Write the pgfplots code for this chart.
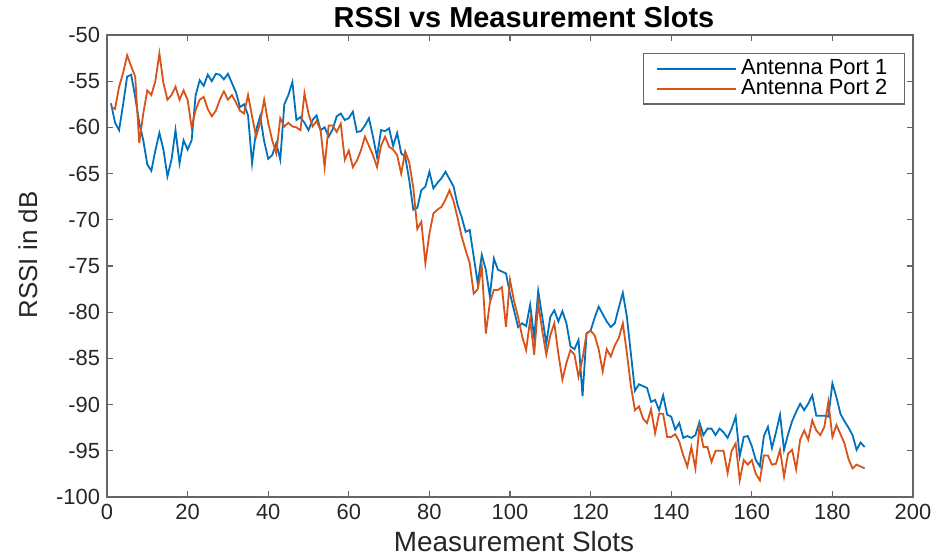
\documentclass[border=0pt]{standalone}
\usepackage{pgfplots}
\pgfplotsset{compat=1.18}
\usepackage{pgfplotstable}
\usepackage{fontspec}
\setmainfont{Liberation Sans}

\definecolor{mlblue}{rgb}{0,0.447,0.741}
\definecolor{mlorange}{rgb}{0.85,0.325,0.098}
\definecolor{axgray}{rgb}{0.40,0.40,0.40}

% slot, antenna port 1, antenna port 2
\pgfplotstableread{
slot p1 p2
1 -57.4 -57.8
2 -59.5 -58.0
3 -60.3 -55.6
4 -57.5 -54.1
5 -54.5 -52.2
6 -54.3 -53.4
7 -56.7 -54.5
8 -59.5 -61.7
9 -61.4 -58.5
10 -64.0 -56.0
11 -64.7 -56.5
12 -62.5 -55.0
13 -60.6 -52.0
14 -62.4 -55.2
15 -65.3 -57.0
16 -63.5 -56.5
17 -60.3 -55.6
18 -63.9 -57.0
19 -61.4 -56.0
20 -62.4 -57.0
21 -61.4 -60.0
22 -56.5 -58.1
23 -54.9 -57.0
24 -55.5 -56.7
25 -54.3 -58.0
26 -55.0 -58.8
27 -54.2 -58.2
28 -54.3 -57.0
29 -54.8 -56.1
30 -54.2 -57.0
31 -55.2 -56.5
32 -56.2 -57.3
33 -57.8 -58.2
34 -57.5 -58.5
35 -58.7 -56.5
36 -63.9 -58.8
37 -60.3 -61.0
38 -58.8 -59.5
39 -61.5 -57.0
40 -63.4 -59.5
41 -63.0 -61.4
42 -61.7 -62.8
43 -63.5 -59.0
44 -57.5 -59.9
45 -56.5 -59.5
46 -55.1 -59.9
47 -59.2 -60.0
48 -58.9 -60.3
49 -59.5 -56.3
50 -60.3 -58.5
51 -59.2 -59.9
52 -58.7 -59.3
53 -60.3 -60.3
54 -60.0 -64.3
55 -61.0 -59.8
56 -60.2 -59.8
57 -58.8 -60.5
58 -58.5 -59.6
59 -59.2 -63.5
60 -59.0 -62.5
61 -58.3 -64.3
62 -60.5 -63.6
63 -60.4 -62.5
64 -59.8 -61.0
65 -59.0 -62.0
66 -61.0 -63.0
67 -63.2 -64.3
68 -60.3 -62.0
69 -60.4 -61.0
70 -60.1 -62.1
71 -62.0 -62.4
72 -60.6 -63.0
73 -62.8 -65.0
74 -63.2 -62.6
75 -65.7 -63.8
76 -68.9 -66.5
77 -68.7 -71.0
78 -66.8 -70.2
79 -66.4 -74.7
80 -64.8 -71.5
81 -66.6 -69.3
82 -66.0 -68.9
83 -65.5 -68.6
84 -64.8 -67.8
85 -65.6 -66.8
86 -66.4 -68.0
87 -68.4 -69.8
88 -69.7 -71.8
89 -71.3 -73.3
90 -71.1 -74.7
91 -74.0 -78.0
92 -76.9 -77.5
93 -73.8 -75.1
94 -75.4 -82.3
95 -78.3 -79.0
96 -74.2 -77.6
97 -75.4 -77.6
98 -75.6 -77.3
99 -75.8 -81.6
100 -78.0 -76.5
101 -79.8 -78.8
102 -81.6 -80.5
103 -81.2 -82.6
104 -81.5 -84.1
105 -79.2 -80.8
106 -82.8 -84.6
107 -77.7 -79.0
108 -80.5 -82.0
109 -83.4 -84.6
110 -80.5 -82.5
111 -79.8 -81.2
112 -81.0 -84.5
113 -79.9 -87.3
114 -81.2 -85.5
115 -83.7 -84.1
116 -84.0 -84.6
117 -83.0 -87.0
118 -89.1 -85.0
119 -82.3 -82.3
120 -82.0 -82.0
121 -80.6 -82.5
122 -79.4 -84.0
123 -80.2 -86.4
124 -81.0 -84.0
125 -81.6 -84.8
126 -81.2 -83.6
127 -79.5 -82.8
128 -77.9 -81.2
129 -80.5 -84.4
130 -84.5 -88.0
131 -88.5 -90.6
132 -87.8 -90.2
133 -88.0 -91.5
134 -88.2 -92.0
135 -89.7 -90.5
136 -89.5 -93.1
137 -90.6 -91.0
138 -89.0 -91.0
139 -91.1 -93.5
140 -91.3 -93.5
141 -92.7 -93.2
142 -92.0 -94.0
143 -93.6 -95.5
144 -93.4 -96.7
145 -93.6 -94.6
146 -93.3 -96.9
147 -91.9 -92.4
148 -93.3 -94.6
149 -92.6 -94.6
150 -92.6 -96.2
151 -93.3 -95.0
152 -92.6 -95.0
153 -93.0 -95.0
154 -93.6 -97.4
155 -92.6 -95.0
156 -91.3 -94.2
157 -95.6 -98.2
158 -93.5 -96.0
159 -93.4 -96.5
160 -94.5 -96.0
161 -96.0 -97.5
162 -96.7 -98.2
163 -93.4 -95.5
164 -92.4 -95.5
165 -94.7 -96.5
166 -93.0 -96.4
167 -91.1 -94.9
168 -94.9 -97.8
169 -93.2 -95.3
170 -91.8 -94.9
171 -90.8 -97.0
172 -89.9 -93.8
173 -90.6 -92.8
174 -89.9 -93.8
175 -89.0 -91.7
176 -91.2 -92.8
177 -91.2 -93.3
178 -91.2 -92.4
179 -91.3 -89.7
180 -87.7 -93.5
181 -89.2 -92.2
182 -91.0 -93.2
183 -91.8 -94.2
184 -92.5 -95.9
185 -93.3 -96.9
186 -94.9 -96.5
187 -94.1 -96.7
188 -94.6 -96.9
}\rssi

\begin{document}
\begin{tikzpicture}
\begin{axis}[
    name=ax,
    scale only axis,
    width=403bp, height=231bp,
    xmin=0, xmax=200, ymin=-100, ymax=-50,
    xtick={0,20,...,200},
    ytick={-100,-95,...,-50},
    tick align=inside,
    major tick length=3bp,
    axis line style={axgray, line width=0.6bp},
    every tick/.style={axgray, line width=0.6bp},
    tick label style={font=\fontsize{11}{13}\selectfont, black!85},
    /pgf/number format/assume math mode=true,
    title={RSSI vs Measurement Slots},
    title style={font=\bfseries\fontsize{14.5}{16}\selectfont, anchor=base,
        inner sep=0pt, at={(axis description cs:0.5,1)}, yshift=-2bp, xshift=7bp},
    xlabel={Measurement Slots},
    xlabel style={font=\fontsize{14}{16}\selectfont, black!85, anchor=base,
        inner sep=0pt, at={(axis description cs:0.5,0)}, yshift=-27bp, xshift=2bp},
    ylabel={RSSI in dB},
    ylabel style={font=\fontsize{13}{15}\selectfont, black!85, anchor=base,
        inner sep=0pt, at={(axis description cs:-0.0868,0.524)}},
    legend style={at={(axis description cs:0.990,0.961)}, anchor=north east,
        draw=axgray, line width=0.6bp, font=\fontsize{11}{12}\selectfont,
        inner xsep=6.5bp, inner ysep=1bp, row sep=-3bp, cells={anchor=west}},
    legend image code/.code={\draw[#1] (0bp,0bp) -- (39.5bp,0bp);},
    legend cell align=left,
]
\addplot[mlblue, line width=0.9bp] table[x=slot, y=p1] {\rssi};
\addlegendentry{Antenna Port 1}
\addplot[mlorange, line width=0.9bp] table[x=slot, y=p2] {\rssi};
\addlegendentry{Antenna Port 2}
\end{axis}
\path ([shift={(-53.5bp,-29.5bp)}]ax.south west) rectangle ++(472.5bp,278bp);
\end{tikzpicture}
\end{document}
